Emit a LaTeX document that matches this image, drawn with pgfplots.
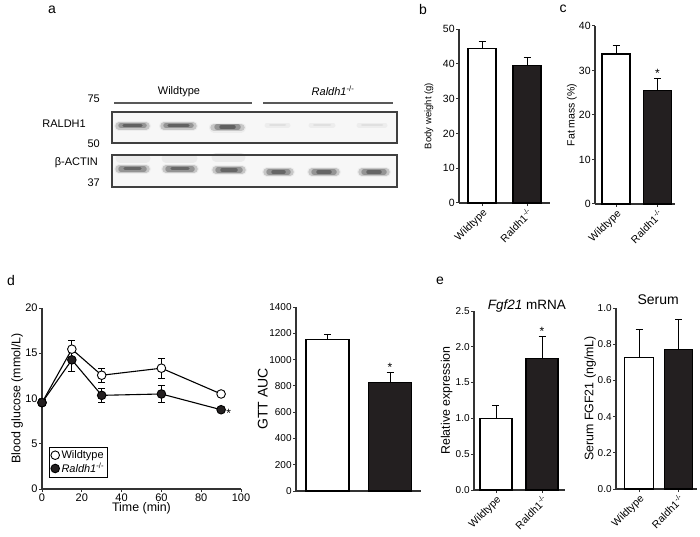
\documentclass[border=0pt]{standalone}
\usepackage{fontspec}
\setmainfont{Liberation Sans}
\usepackage{pgfplots}
\pgfplotsset{compat=1.18}
\definecolor{ko}{HTML}{231F20}
\definecolor{axc}{HTML}{333333}
\newcommand{\fs}[1]{\fontsize{#1}{#1}\selectfont}
\pgfplotsset{
  panel/.style={
    scale only axis, clip=false, anchor=south west,
    axis lines=left, axis line style={-, axc, line width=1.1pt},
    tick align=outside, major tick length=3pt,
    tick style={axc, line width=1pt},
    /pgf/number format/assume math mode=true,
    /pgf/number format/set thousands separator={},
    every tick label/.append style={inner sep=1.2pt},
    ymin=0,
  },
  ylab/.style={every axis y label/.style={at={(axis description cs:#1,0.5)}, rotate=90, anchor=center}},
  catx/.style={xtick={0,1}, xticklabels={Wildtype, Raldh1\textsuperscript{-/-}},
    xticklabel style={rotate=45, anchor=north east, font=\fs{10.5}, inner sep=1pt}},
  wtbar/.style={ybar, bar shift=0pt, bar width=#1, fill=white, draw=black, line width=1.1pt,
    error bars/.cd, y dir=plus, y explicit, error bar style={line width=1pt, black},
    error mark options={rotate=90, mark size=3.5pt, line width=1pt, black}},
  kobar/.style={ybar, bar shift=0pt, bar width=#1, fill=ko, draw=black, line width=1.1pt,
    error bars/.cd, y dir=plus, y explicit, error bar style={line width=1pt, black},
    error mark options={rotate=90, mark size=3.5pt, line width=1pt, black}},
}
\begin{document}
\begin{tikzpicture}
\useasboundingbox (0pt,0pt) rectangle (700pt,536pt);
% blot frames (pixel coords: x, 536-y)
\fill[black!3] (112pt,{536pt-112pt}) rectangle (397pt,{536pt-143pt});
\fill[black!3] (112pt,{536pt-155pt}) rectangle (397pt,{536pt-187pt});
\begin{axis}[at={(0pt,0pt)}, anchor=south west, scale only axis, width=700pt, height=536pt,
  xmin=0, xmax=700, ymin=0, ymax=536, y dir=reverse, hide axis, clip=false]
% panel letters
\node[font=\fs{14}] at (axis cs:52,10) {a};
\node[font=\fs{14}] at (axis cs:423,9) {b};
\node[font=\fs{14}] at (axis cs:563,9) {c};
\node[font=\fs{14}] at (axis cs:11,280) {d};
\node[font=\fs{14}] at (axis cs:440,281) {e};
% blot labels
\node[font=\fs{11}] at (axis cs:179,92) {Wildtype};
\node[font=\fs{11}] at (axis cs:333,91) {\textit{Raldh1}\textsuperscript{-/-}};
\node[font=\fs{11}, anchor=east, inner sep=0pt] at (axis cs:100,99) {75};
\node[font=\fs{11}, anchor=east, inner sep=0pt] at (axis cs:86,124) {RALDH1};
\node[font=\fs{11}, anchor=east, inner sep=0pt] at (axis cs:100,144) {50};
\node[font=\fs{11}, anchor=east, inner sep=0pt] at (axis cs:98,163) {β-ACTIN};
\node[font=\fs{11}, anchor=east, inner sep=0pt] at (axis cs:100,183) {37};
\draw[black!65, line width=1.3pt] (axis cs:114,103) -- (axis cs:252,103);
\draw[black!65, line width=1.3pt] (axis cs:263,103) -- (axis cs:393,103);
% bands: RALDH1 wildtype
\addplot[no marks, line width=10pt, black!7, line cap=round, unbounded coords=jump] coordinates {(119,126) (146,126) (nan,nan) (164,126) (193,126) (nan,nan) (214,127.5) (241,127.5)};
\addplot[no marks, line width=7.5pt, black!22, line cap=round, unbounded coords=jump] coordinates {(119,126) (146,126) (nan,nan) (164,126) (193,126) (nan,nan) (214,127.5) (241,127.5)};
\addplot[no marks, line width=5.5pt, black!42, line cap=round, unbounded coords=jump] coordinates {(121,125.5) (144,125.5) (nan,nan) (166,125.5) (191,125.5) (nan,nan) (217,127) (238,127)};
\addplot[no marks, line width=3.5pt, black!62, line cap=round, unbounded coords=jump] coordinates {(124,125.5) (141,125.5) (nan,nan) (169,125.5) (188,125.5) (nan,nan) (221,127) (234,127)};
% bands: RALDH1 knockout (faint)
\addplot[no marks, line width=5pt, black!7, line cap=round, unbounded coords=jump] coordinates {(267,125) (288,125) (nan,nan) (311,125) (333,125) (nan,nan) (359,125) (385,125)};
\addplot[no marks, line width=2pt, black!12, line cap=round, unbounded coords=jump] coordinates {(270,125) (285,125) (nan,nan) (314,125) (330,125) (nan,nan) (362,125) (382,125)};
% bands: actin faint upper
\addplot[no marks, line width=9pt, black!8, line cap=round, unbounded coords=jump] coordinates {(120,158) (146,158) (nan,nan) (166,158) (193,158) (nan,nan) (216,157) (241,157)};
% bands: actin
\addplot[no marks, line width=10pt, black!7, line cap=round, unbounded coords=jump] coordinates {(119,169) (146,169) (nan,nan) (166,169) (194,169) (nan,nan) (216,170) (242,170) (nan,nan) (267,172) (290,172) (nan,nan) (312,172) (336,172) (nan,nan) (362,172) (386,172)};
\addplot[no marks, line width=7.5pt, black!22, line cap=round, unbounded coords=jump] coordinates {(119,169) (146,169) (nan,nan) (166,169) (194,169) (nan,nan) (216,170) (242,170) (nan,nan) (267,172) (290,172) (nan,nan) (312,172) (336,172) (nan,nan) (362,172) (386,172)};
\addplot[no marks, line width=5.5pt, black!42, line cap=round, unbounded coords=jump] coordinates {(121,169) (144,169) (nan,nan) (168,169) (192,169) (nan,nan) (218,170) (240,170) (nan,nan) (269,172) (288,172) (nan,nan) (314,172) (334,172) (nan,nan) (364,172) (384,172)};
\addplot[no marks, line width=3.5pt, black!60, line cap=round, unbounded coords=jump] coordinates {(125,168.5) (140,168.5) (nan,nan) (172,168.5) (188,168.5) (nan,nan) (222,170) (236,170) (nan,nan) (273,172) (284,172) (nan,nan) (318,172) (330,172) (nan,nan) (368,172) (380,172)};
\end{axis}
\draw[black!75, line width=1.3pt] (112pt,{536pt-112pt}) rectangle (397pt,{536pt-143pt});
\draw[black!75, line width=1.3pt] (112pt,{536pt-155pt}) rectangle (397pt,{536pt-187pt});

% panel b
\begin{axis}[panel, at={(459pt,333pt)}, width=91pt, height=174pt,
  xmin=-0.511, xmax=1.511, ymax=50, ytick={0,10,...,50}, catx,
  yticklabel style={font=\fs{10.5}}, ylab=-0.33, ylabel={Body weight (g)}, ylabel style={font=\fs{9.5}}]
\addplot[wtbar=28pt] coordinates {(0,44.5) +- (0,1.8)};
\addplot[kobar=28pt] coordinates {(1,39.4) +- (0,2.3)};
\end{axis}

% panel c
\begin{axis}[panel, at={(595pt,332pt)}, width=80pt, height=178pt,
  xmin=-0.506, xmax=1.422, ymax=40, ytick={0,10,...,40}, catx,
  yticklabel style={font=\fs{10.5}}, ylab=-0.29, ylabel={Fat mass (\%)}, ylabel style={font=\fs{10.5}}]
\addplot[wtbar=28pt] coordinates {(0,33.7) +- (0,1.9)};
\addplot[kobar=28pt] coordinates {(1,25.5) +- (0,2.8)};
\node[font=\fs{12}, anchor=south, inner sep=0pt] at (axis cs:1,28.3) {*};
\end{axis}

% panel d
\begin{axis}[panel, at={(42pt,47pt)}, width=199pt, height=181pt,
  xmin=0, xmax=100, ymax=20, xtick={0,20,...,100}, ytick={0,5,...,20},
  ticklabel style={font=\fs{11}}, ylab=-0.125, ylabel={Blood glucose (mmol/L)}, ylabel style={font=\fs{12.4}},
  every axis x label/.style={at={(axis description cs:0.5,-0.105)}, anchor=center},
  xlabel={Time (min)}, xlabel style={font=\fs{12.4}},
  legend style={at={(rel axis cs:0.035,0.061)}, anchor=south west, font=\fs{11}, draw=black, line width=0.9pt, inner sep=1.5pt, row sep=-1pt},
  legend cell align=left,
  legend image code/.code={\draw[#1, only marks] plot coordinates {(0.1cm,0cm)};}]
\addplot[black, line width=1.1pt, mark=*, mark size=4.3pt, mark options={fill=white, draw=black, line width=0.9pt},
  error bars/.cd, y dir=both, y explicit, error bar style={line width=1pt, black}, error mark options={rotate=90, mark size=3.5pt, line width=1pt, black}]
  coordinates {(0,9.54) +- (0,0.3) (15,15.45) +- (0,0.95) (30,12.57) +- (0,0.78) (60,13.35) +- (0,1.1) (90,10.5) +- (0,0.25)};
\addlegendentry{Wildtype}
\addplot[black, line width=1.1pt, mark=*, mark size=4.3pt, mark options={fill=ko, draw=black, line width=0.9pt},
  error bars/.cd, y dir=both, y explicit, error bar style={line width=1pt, black}, error mark options={rotate=90, mark size=3.5pt, line width=1pt, black}]
  coordinates {(0,9.54) +- (0,0.3) (15,14.27) +- (0,1.3) (30,10.35) +- (0,0.8) (60,10.5) +- (0,0.9) (90,8.76) +- (0,0.2)};
\addlegendentry{\textit{Raldh1}\textsuperscript{-/-}}
\node[font=\fs{12}, anchor=west, inner sep=0pt] at (axis cs:92.5,8.4) {*};
\end{axis}

% panel GTT AUC
\begin{axis}[panel, at={(296pt,45pt)}, width=125pt, height=184pt,
  xmin=-0.504, xmax=1.496, ymax=1400, ytick={0,200,...,1400}, xtick=\empty,
  yticklabel style={font=\fs{10}}, ylab=-0.265, ylabel={GTT AUC}, ylabel style={font=\fs{14}}]
\addplot[wtbar=43pt] coordinates {(0,1150) +- (0,44)};
\addplot[kobar=43pt] coordinates {(1,825) +- (0,76)};
\node[font=\fs{12}, anchor=south, inner sep=0pt] at (axis cs:1,905) {*};
\end{axis}

% panel e left
\begin{axis}[panel, at={(474pt,46pt)}, width=91pt, height=179pt,
  xmin=-0.478, xmax=1.5, ymax=2.5, ytick={0,0.5,...,2.5}, catx,
  yticklabel style={font=\fs{10}, /pgf/number format/.cd, fixed, fixed zerofill, precision=1},
  ylab=-0.3, ylabel={Relative expression}, ylabel style={font=\fs{12.4}}]
\addplot[wtbar=32pt] coordinates {(0,1.0) +- (0,0.18)};
\addplot[kobar=32pt] coordinates {(1,1.84) +- (0,0.30)};
\node[font=\fs{12}, anchor=south, inner sep=0pt] at (axis cs:1,2.15) {*};
\node[font=\fs{13.5}] at (rel axis cs:0.58,1.03) {\textit{Fgf21} mRNA};
\end{axis}

% panel e right
\begin{axis}[panel, at={(616pt,47pt)}, width=81pt, height=181pt,
  xmin=-0.582, xmax=1.468, ymax=1, ytick={0,0.2,...,1.0}, catx,
  yticklabel style={font=\fs{10}, /pgf/number format/.cd, fixed, fixed zerofill, precision=1},
  ylab=-0.32, ylabel={Serum FGF21 (ng/mL)}, ylabel style={font=\fs{12.4}}]
\addplot[wtbar=28.5pt] coordinates {(0,0.726) +- (0,0.155)};
\addplot[kobar=28.5pt] coordinates {(1,0.769) +- (0,0.166)};
\node[font=\fs{14}] at (rel axis cs:0.52,1.045) {Serum};
\end{axis}
\end{tikzpicture}
\end{document}
